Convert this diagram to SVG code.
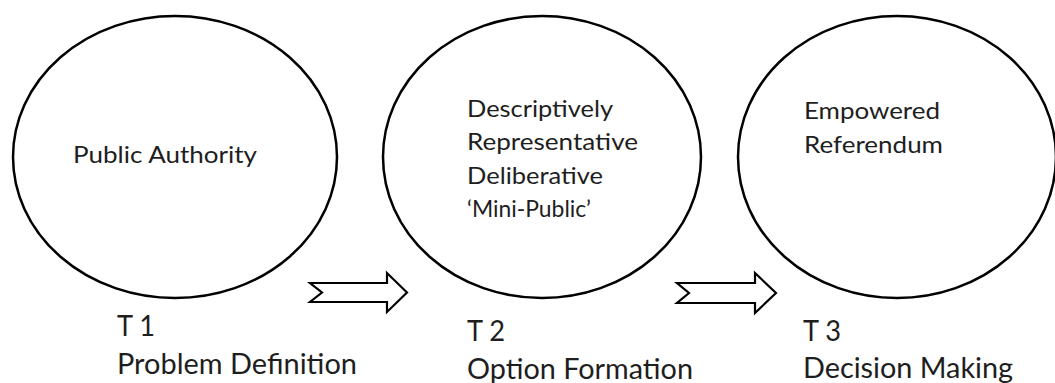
<svg xmlns="http://www.w3.org/2000/svg" width="1055" height="383" viewBox="0 0 1055 383">
<style>
.node ellipse{fill:#fff;stroke:#000;stroke-width:2.5}
.in{font-family:Lato,"Open Sans",sans-serif;font-size:24px;fill:#1e1e1e}
.lab{font-family:Lato,"Open Sans",sans-serif;font-size:28px;fill:#1e1e1e}
.arrow{fill:#fff;stroke:#000;stroke-width:2.2;stroke-linejoin:miter}
</style>
<rect width="1055" height="383" fill="#fff"/>
<g id="node-public-authority" class="node">
<ellipse cx="175" cy="157" rx="162" ry="141"/>
<text class="in" x="73" y="163" textLength="184" lengthAdjust="spacingAndGlyphs">Public Authority</text>
</g>
<g id="node-mini-public" class="node">
<ellipse cx="542" cy="157" rx="159" ry="141"/>
<text class="in" x="467" y="117" textLength="146" lengthAdjust="spacingAndGlyphs">Descriptively</text>
<text class="in" x="467" y="150" textLength="171" lengthAdjust="spacingAndGlyphs">Representative</text>
<text class="in" x="467" y="184" textLength="136" lengthAdjust="spacingAndGlyphs">Deliberative</text>
<text class="in" x="467" y="217" textLength="124" lengthAdjust="spacingAndGlyphs">‘Mini-Public’</text>
</g>
<g id="node-referendum" class="node">
<ellipse cx="897" cy="157" rx="159" ry="141"/>
<text class="in" x="804" y="119" textLength="136" lengthAdjust="spacingAndGlyphs">Empowered</text>
<text class="in" x="804" y="153" textLength="139" lengthAdjust="spacingAndGlyphs">Referendum</text>
</g>
<g id="label-t1">
<text class="lab" x="117" y="336" textLength="38" lengthAdjust="spacingAndGlyphs">T 1</text>
<text class="lab" x="117" y="374" textLength="240" lengthAdjust="spacingAndGlyphs">Problem Definition</text>
</g>
<g id="label-t2">
<text class="lab" x="467" y="341" textLength="38" lengthAdjust="spacingAndGlyphs">T 2</text>
<text class="lab" x="467" y="379" textLength="226" lengthAdjust="spacingAndGlyphs">Option Formation</text>
</g>
<g id="label-t3">
<text class="lab" x="803" y="341" textLength="38" lengthAdjust="spacingAndGlyphs">T 3</text>
<text class="lab" x="803" y="378" textLength="210" lengthAdjust="spacingAndGlyphs">Decision Making</text>
</g>
<g id="connectors">
<polygon class="arrow" points="310,283 387,283 387,273 407,292.5 387,312 387,302 310,302 322,292.5"/>
<polygon class="arrow" points="677,283 755,283 755,273 776,293 755,313 755,303 677,303 689,293"/>
</g>
</svg>
